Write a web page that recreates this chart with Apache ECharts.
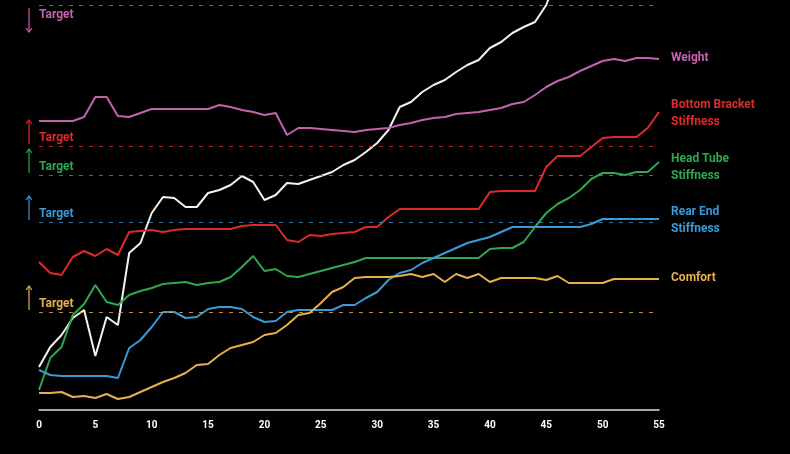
<!DOCTYPE html>
<html><head><meta charset="utf-8">
<script src="https://cdn.jsdelivr.net/npm/echarts@6/dist/echarts.min.js"></script>
<style>html,body{margin:0;padding:0;background:#000}#c{width:790px;height:454px}</style>
</head><body><div id="c"></div>
<script>
const xTicks = [0,5,10,15,20,25,30,35,40,45,50,55];
const overall = [43,63,75,92,100,54,93,85,157,167,197,213,212,203,203,217,220,225,234,228,210,215,227,226,230,234,238,245,250,258,267,280,303,308,318,325,330,338,345,350,362,368,377,383,388,405,435];
const weight = [289,289,289,289,293,313,313,294,293,297,301,301,301,301,301,301,305,303,300,298,295,297,275,282,282,281,280,279,278,280,281,282,285,287,290,292,293,296,297,298,300,302,306,308,315,323,329,333,339,344,349,351,349,352,352,351];
const bottomBracket = [148,137,135,153,159,154,161,155,178,179,180,178,180,181,181,181,181,181,184,185,185,185,170,168,175,174,176,177,178,183,183,193,201,201,201,201,201,201,201,201,218,219,219,219,219,243,254,254,254,263,272,273,273,273,282,298];
const headTube = [20,52,63,95,106,125,108,105,115,119,122,126,127,128,125,127,128,133,143,154,139,141,134,133,136,139,142,145,148,152,152,152,152,152,152,152,152,152,152,152,161,162,162,168,183,197,206,212,220,231,237,237,235,238,238,248];
const rearEnd = [40,35,34,34,34,34,34,32,62,70,83,98,98,92,93,101,103,103,101,93,88,89,98,100,100,100,100,105,105,112,118,130,137,140,147,152,157,162,167,170,173,178,183,183,183,183,183,183,183,186,191,191,191,191,191,191];
const comfort = [17,17,18,13,14,12,16,11,13,18,23,28,32,37,45,46,55,62,65,68,75,77,85,95,97,107,118,123,132,133,133,133,134,136,133,136,128,136,132,136,128,132,132,132,132,130,134,127,127,127,127,131,131,131,131,131];
const names = ['Weight','Bottom Bracket\nStiffness','Head Tube\nStiffness','Rear End\nStiffness','Comfort'];
const colors = ['#c462b0','#e02a2a','#2fa84f','#3a9ad9','#e8b04a'];
const targets = [405,264,235,188,98];
const targetDown = [true,false,false,false,false];
const labelShift = [-1,1,5,1,-1];
const values = [weight,bottomBracket,headTube,rearEnd,comfort];

const pairs = a => a.map((v,i)=>[i,v]);
const series = [{
  type:'line', data:pairs(overall), symbol:'none', lineStyle:{color:'#f2f2f2',width:2}, silent:true
}];
values.forEach((v,k)=>{
  series.push({
    type:'line', name:names[k], data:pairs(v), symbol:'none',
    lineStyle:{color:colors[k],width:2}, itemStyle:{color:colors[k]},
    endLabel:{show:true, formatter:names[k], color:colors[k], fontWeight:'bold', fontSize:12, lineHeight:17, distance:12, offset:[0,labelShift[k]], fontFamily:'Roboto'},
    markLine:{silent:true, symbol:'none', label:{show:false},
      lineStyle:{color:colors[k], type:[4,6], width:1, opacity:0.8},
      data:[[{coord:[0,targets[k]]},{coord:[55,targets[k]]}]]}
  });
});
const chart = echarts.init(document.getElementById('c'));
chart.setOption({
  backgroundColor:'#000', animation:false,
  grid:{left:39,right:131,top:0,bottom:44},
  xAxis:{type:'value',min:0,max:55,interval:5,
    axisLine:{lineStyle:{color:'#ddd',width:1.5}},axisTick:{show:false},splitLine:{show:false},
    axisLabel:{color:'#fff',fontWeight:'bold',fontSize:10,fontFamily:'Roboto',margin:10,
      formatter:v=>xTicks.includes(v)?String(v):''}},
  yAxis:{type:'value',min:0,max:410,show:false,splitLine:{show:false}},
  series
});
const g = [];
targets.forEach((t,k)=>{
  const p = chart.convertToPixel({gridIndex:0},[0,t]);
  const down = targetDown[k];
  const ax = p[0]-10;
  const y1 = down ? p[1]+3 : p[1]-26, y2 = down ? p[1]+27 : p[1]-2;
  g.push({type:'line',shape:{x1:ax,y1:y1,x2:ax,y2:y2},style:{stroke:colors[k],lineWidth:1.2}});
  const tipY = down ? y2 : y1, d = down ? -1 : 1;
  g.push({type:'polyline',shape:{points:[[ax-3,tipY+4*d],[ax,tipY],[ax+3,tipY+4*d]]},style:{stroke:colors[k],lineWidth:1.2,fill:null}});
  g.push({type:'text',x:p[0],y:down ? p[1]+10 : p[1]-8,style:{text:'Target',fill:colors[k],font:'bold 12px Roboto',textVerticalAlign:'middle'}});
});
chart.setOption({graphic:g});
</script></body></html>
